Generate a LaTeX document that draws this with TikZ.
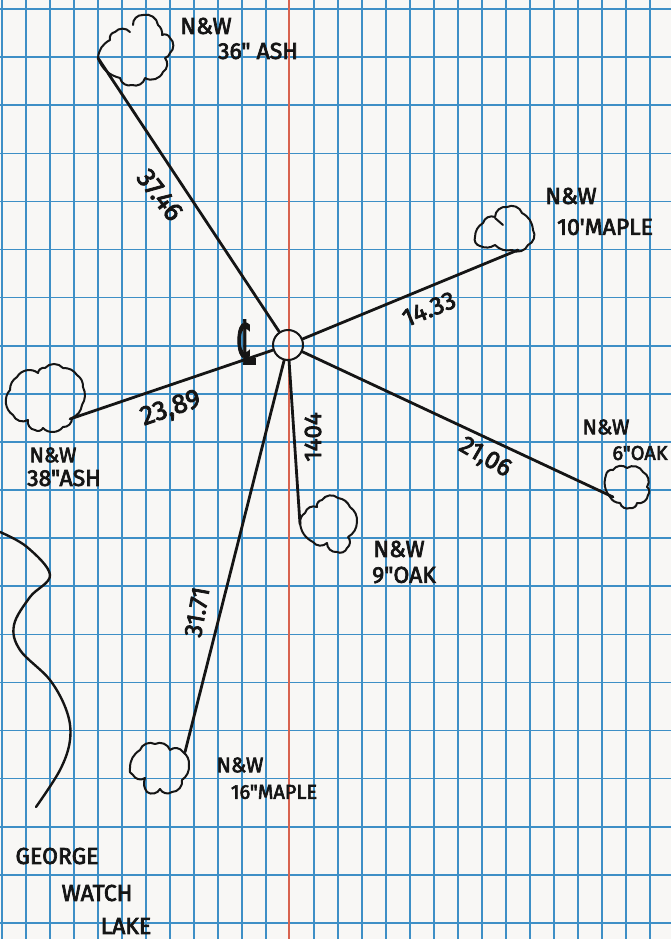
\documentclass[tikz,border=0pt]{standalone}
\usepackage{graphicx}
\usepackage{fontspec}
\setmainfont{Fira Sans}
\newfontfamily\hand[FakeBold=3]{Fira Sans}
\newfontfamily\symfont[FakeBold=3]{DejaVu Sans}
\definecolor{paper}{HTML}{F8F7F5}
\definecolor{rule}{HTML}{3E8FC6}
\definecolor{redrule}{HTML}{D8634F}
\definecolor{ink}{HTML}{151515}
\tikzset{
  gridline/.style={rule, line width=1.6pt},
  marginline/.style={redrule, line width=1.6pt},
  tie/.style={ink, line width=2.8pt, line cap=round},
  treeline/.style={ink, line width=2pt, line cap=round, line join=round},
  lakeline/.style={ink, line width=2.4pt, line cap=round},
  hubnode/.style={circle, draw=ink, line width=2pt, minimum size=30pt, inner sep=0pt},
  lab/.style={ink, font=\hand\fontsize{25}{27}\selectfont, inner sep=0pt},
  treelab/.style={ink, font=\hand\fontsize{23}{24}\selectfont, inner sep=0pt},
  lob/.style={bend left=50},
  lobs/.style={bend left=28}
}
\begin{document}
\begin{tikzpicture}[x=1pt,y=-1pt]
\useasboundingbox (0,0) rectangle (671,939);
\fill[paper] (0,0) rectangle (671,939);
\foreach \k in {0,...,27}{
  \ifnum\k=12\else
  \draw[gridline] ({2+24*\k},0) -- ({2+24*\k},939);
  \fi
}
\foreach \k in {0,...,19}{
  \draw[gridline] (0,{9+48.1*\k}) -- (671,{9+48.1*\k});
}
\draw[marginline] (289,0) -- (289,939);

% hub and tree anchors
\node[hubnode] (hub) at (288,345) {};
\coordinate (ashN) at (98,58);
\coordinate (mapleE) at (518,250);
\coordinate (ashW) at (70,419);
\coordinate (oakE) at (613,497);
\coordinate (oakS) at (300,524);
\coordinate (mapleS) at (185,752);

\foreach \t in {ashN,mapleE,ashW,oakE,oakS,mapleS}{
  \draw[tie] (hub) -- (\t);
}

% trees
\draw[treeline] (98,58) to[lobs] (110,40) to[lob] (115,32) to[lob] (130,32);
\draw[treeline] (133,25) to[lob] (143,15) to[lob] (158,25) to[lobs] (162,35) to[lob] (170,38) to[lob] (170,53) to[lobs] (165,58) to[lob] (163,72) to[lob] (145,78) to[lob] (132,85) to[lob] (120,78) to[lobs] (98,58);

\draw[treeline] (512,250) to[lobs] (495,245) to[lobs] (480,246) to[lob] (475,237) to[lobs] (483,223) to[lob] (495,217) to[lob] (507,207) to[lob] (522,213) to[lobs] (533,230) to[lob] (528,245) to[lob] (512,250);
\draw[treeline] (495,218) -- (503,225);

\draw[treeline] (10,390) to[lobs] (17,377) to[lob] (38,373) to[lob] (45,368) to[lob] (63,368) to[lobs] (77,375) to[lobs] (83,387) to[lobs] (82,405) to[lobs] (72,418) to[lob] (63,427) to[lob] (43,428) to[lob] (35,430) to[lob] (28,420) to[lob] (13,415) to[lob] (10,390);

\draw[treeline] (300,523) to[lobs] (305,513) to[lob] (317,507) to[lob] (322,500) to[lob] (338,498) to[lobs] (350,507) to[lobs] (357,522) to[lobs] (348,537) to[lob] (347,548) to[lob] (337,552) to[lob] (327,543) to[lob] (313,542) to[lobs] (300,523);

\draw[treeline] (606,475) to[lob] (613,470) to[lob] (627,468) to[lob] (643,472) to[lob] (647,487) to[lob] (648,495) to[lob] (637,503) to[lob] (630,508) to[lob] (620,503) to[lobs] (610,497) to[lobs] (606,475);

\draw[treeline] (130,768) to[lobs] (140,750) to[lob] (155,744) to[lob] (170,750) to[lob] (183,752) to[lobs] (189,765) to[lobs] (182,780) to[lob] (172,792) to[lob] (160,789) to[lob] (147,792) to[lobs] (145,778) to[lob] (133,775) to[lob] (130,768);

% lake
\draw[lakeline] plot[smooth,tension=0.6] coordinates {(0,532) (27,547) (50,575) (30,597) (14,625) (20,650) (50,680) (67,712) (70,740) (60,770) (36,807)};

% dimensions
\node[lab,rotate=-52,font=\hand\fontsize{27}{29}\selectfont] (d1) at (160,195) {37.46};
\node[lab,rotate=22] (d2) at (429,309) {14.33};
\node[lab,rotate=19,font=\hand\fontsize{27}{29}\selectfont] (d3) at (171,409) {23,89};
\node[lab,rotate=-30] (d4) at (485,458) {21,06};
\node[lab,rotate=90,font=\hand\fontsize{24}{26}\selectfont] (d5) at (313,437) {1404};
\node[lab,rotate=80] (d6) at (197,612) {31.71};

\node[ink,font=\symfont\fontsize{60}{60}\selectfont,inner sep=0pt] (cl) at (247,342) {\scalebox{0.45}[1]{℄}};

% tree labels
\node[treelab] (n1a) at (206,26) {N\&W};
\node[treelab] (n1b) at (258,51) {36" ASH};
\node[treelab] (n2a) at (571,196) {N\&W};
\node[treelab] (n2b) at (605,227) {10'MAPLE};
\node[treelab,font=\hand\fontsize{21}{24}\selectfont] (n3a) at (53,455) {N\&W};
\node[treelab] (n3b) at (64,478) {38"ASH};
\node[treelab,font=\hand\fontsize{21}{24}\selectfont] (n4a) at (606,427) {N\&W};
\node[treelab,font=\hand\fontsize{20}{24}\selectfont] (n4b) at (640,453) {6"OAK};
\node[treelab] (n5a) at (399,549) {N\&W};
\node[treelab] (n5b) at (404,575) {9"OAK};
\node[treelab,font=\hand\fontsize{21}{24}\selectfont] (n6a) at (240,765) {N\&W};
\node[treelab,font=\hand\fontsize{20}{24}\selectfont] (n6b) at (274,792) {16"MAPLE};

\node[treelab] (l1) at (57,856) {GEORGE};
\node[treelab] (l2) at (97,893) {WATCH};
\node[treelab] (l3) at (126,926) {LAKE};
\end{tikzpicture}
\end{document}
